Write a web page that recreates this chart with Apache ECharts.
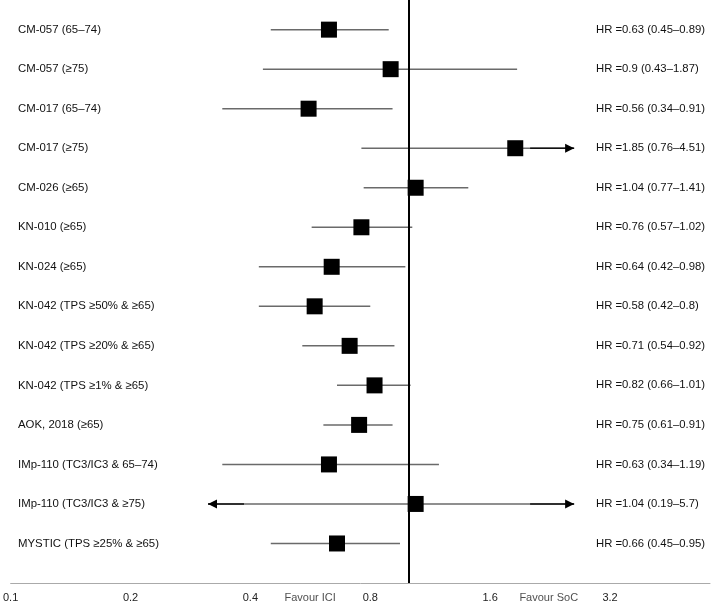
<!DOCTYPE html>
<html>
<head>
<meta charset="utf-8">
<script src="https://cdn.jsdelivr.net/npm/echarts@6/dist/echarts.min.js"></script>
<style>html,body{margin:0;padding:0;background:#fff}#c{width:720px;height:605px}</style>
</head>
<body>
<div id="c"></div>
<script>
const names = ["CM-057 (65–74)","CM-057 (≥75)","CM-017 (65–74)","CM-017 (≥75)","CM-026 (≥65)","KN-010 (≥65)","KN-024 (≥65)","KN-042 (TPS ≥50% & ≥65)","KN-042 (TPS ≥20% & ≥65)","KN-042 (TPS ≥1% & ≥65)","AOK, 2018 (≥65)","IMp-110 (TC3/IC3 & 65–74)","IMp-110 (TC3/IC3 & ≥75)","MYSTIC (TPS ≥25% & ≥65)"];
const hr = [0.63,0.9,0.56,1.85,1.04,0.76,0.64,0.58,0.71,0.82,0.75,0.63,1.04,0.66];
const lo = [0.45,0.43,0.34,0.76,0.77,0.57,0.42,0.42,0.54,0.66,0.61,0.34,0.19,0.45];
const hi = [0.89,1.87,0.91,4.51,1.41,1.02,0.98,0.8,0.92,1.01,0.91,1.19,5.7,0.95];
const tickLabels = ["0.1","0.2","0.4","0.8","1.6","3.2"];
const favourLabels = ["Favour ICI","Favour SoC"];
const favourPos = [0.565, 2.245];   // HR positions of the "Favour" captions
const clipLow = 0.313, clipHigh = 2.6; // display limits (arrows beyond)

const toU = v => Math.log2(v / 0.1);
const FONT = '"Liberation Sans", Arial, Helvetica, sans-serif';

const rows = names.map((n, i) => [i, toU(hr[i]), toU(lo[i]), toU(hi[i])]);
const cLo = toU(clipLow), cHi = toU(clipHigh);

function renderItem(params, api) {
  const i = api.value(0), h = api.value(1), l = api.value(2), r = api.value(3);
  const c = api.coord([h, i]);
  const y = c[1];
  const xl = api.coord([Math.max(l, cLo), i])[0];
  const xr = api.coord([Math.min(r, cHi), i])[0];
  const ch = [];
  ch.push({type:'line', shape:{x1:xl, y1:y, x2:xr, y2:y}, style:{stroke:'#6a6a6a', lineWidth:1.5}});
  if (l < cLo) {
    ch.push({type:'line', shape:{x1:xl, y1:y, x2:xl+36, y2:y}, style:{stroke:'#111', lineWidth:1.5}});
    ch.push({type:'polygon', shape:{points:[[xl,y],[xl+9,y-4.5],[xl+9,y+4.5]]}, style:{fill:'#000'}});
  }
  if (r > cHi) {
    ch.push({type:'line', shape:{x1:xr-44, y1:y, x2:xr, y2:y}, style:{stroke:'#111', lineWidth:1.5}});
    ch.push({type:'polygon', shape:{points:[[xr,y],[xr-9,y-4.5],[xr-9,y+4.5]]}, style:{fill:'#000'}});
  }
  ch.push({type:'rect', shape:{x:c[0]-8, y:y-8, width:16, height:16}, style:{fill:'#000'}});
  ch.push({type:'text', x:18, y:y, style:{text:names[i], fill:'#111', font:'11.4px ' + FONT, textVerticalAlign:'middle', textAlign:'left'}});
  ch.push({type:'text', x:596, y:y, style:{text:'HR =' + hr[i] + ' (' + lo[i] + '–' + hi[i] + ')', fill:'#111', font:'11.3px ' + FONT, textVerticalAlign:'middle', textAlign:'left'}});
  return {type:'group', children:ch};
}

const chart = echarts.init(document.getElementById('c'), null, {renderer:'canvas'});
chart.setOption({
  animation: false,
  grid: {left: 7, right: 10, top: 0, bottom: 22},
  xAxis: {
    type: 'value', min: 0, max: 5.834, interval: 1, position: 'bottom',
    axisLine: {show: true, onZero: false, lineStyle: {color: '#aaa', width: 1}},
    axisTick: {show: false}, splitLine: {show: false},
    axisLabel: {
      margin: 9, color: '#222', fontSize: 11, fontFamily: FONT,
      showMaxLabel: false,
      formatter: v => (Math.abs(v - Math.round(v)) < 1e-6 ? (tickLabels[Math.round(v)] || '') : '')
    }
  },
  yAxis: {type: 'value', min: -0.75, max: 14, inverse: true, show: false},
  series: [{
    type: 'custom', renderItem, data: rows, clip: false,
    encode: {x: [1, 2, 3], y: 0},
    markLine: {
      silent: true, symbol: 'none', label: {show: false},
      lineStyle: {color: '#000', width: 2, type: 'solid'},
      data: [{xAxis: toU(1)}]
    }
  }, {
    type: 'scatter', symbolSize: 0, silent: true,
    data: favourPos.map((p, k) => ({value: [toU(p), 14], name: favourLabels[k]})),
    label: {show: true, formatter: p => p.name, position: 'bottom', distance: 9, color: '#222', fontSize: 11, fontFamily: FONT}
  }]
});
</script>
</body>
</html>
